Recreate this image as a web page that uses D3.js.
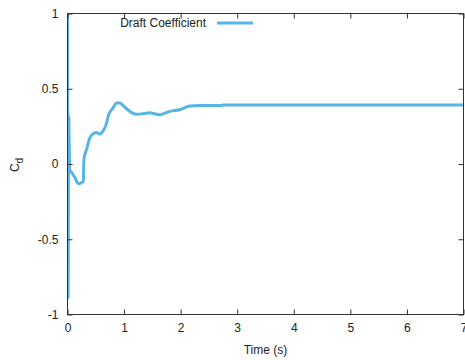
<!DOCTYPE html>
<html>
<head>
<meta charset="utf-8">
<script src="https://cdn.jsdelivr.net/npm/d3@7"></script>
<style>
  body { margin: 0; background: #fff; }
  svg text { font-family: "Liberation Sans", Arial, sans-serif; font-size: 12px; fill: #222; }
</style>
</head>
<body>
<script>
// drag coefficient time history
var time = [0, 0.01, 0.02, 0.04, 0.08, 0.13, 0.19, 0.24, 0.28, 0.29, 0.34, 0.39, 0.45, 0.51, 0.57,
            0.63, 0.68, 0.73, 0.80, 0.87, 0.93, 0.98, 1.05, 1.14, 1.23, 1.35, 1.46, 1.55, 1.63,
            1.72, 1.81, 1.98, 2.16, 2.34, 2.6, 2.73, 2.74, 3.5, 4.5, 5.5, 6.5, 7.0];
var cd = [1.0, -0.89, 0.32, -0.04, -0.06, -0.09, -0.13, -0.125, -0.115, 0.03, 0.1, 0.17, 0.2, 0.21, 0.2,
          0.22, 0.26, 0.33, 0.37, 0.405, 0.405, 0.39, 0.365, 0.34, 0.33, 0.335, 0.34, 0.333, 0.327,
          0.338, 0.35, 0.36, 0.385, 0.388, 0.388, 0.388, 0.392, 0.392, 0.392, 0.392, 0.392, 0.392];

var xTicks = [0, 1, 2, 3, 4, 5, 6, 7];
var yTicks = [-1, -0.5, 0, 0.5, 1];
var seriesName = "Draft Coefficient";

function drawChart(width, height) {
    var left = 67.5, right = 463.5, top = 13.5, bottom = 314.5;

    var svg = d3.select("body").append("svg")
        .attr("width", width)
        .attr("height", height);

    var x = d3.scaleLinear().domain([0, 7]).range([left, right]);
    var y = d3.scaleLinear().domain([-1, 1]).range([bottom, top]);

    svg.append("clipPath").attr("id", "plotclip")
        .append("rect")
        .attr("x", left).attr("y", top)
        .attr("width", right - left).attr("height", bottom - top);

    // data line
    var line = d3.line()
        .x(function(d, i) { return x(time[i]); })
        .y(function(d) { return y(d); })
        .curve(d3.curveMonotoneX);

    svg.append("path")
        .datum(cd)
        .attr("clip-path", "url(#plotclip)")
        .attr("d", line)
        .attr("fill", "none")
        .attr("stroke", "#56b4e9")
        .attr("stroke-width", 3)
        .attr("stroke-linejoin", "round");

    // axes with inward ticks, mirrored on top/right
    var fmt = function(d) { return d; };
    var bottomAxis = d3.axisBottom(x).tickValues(xTicks).tickSizeInner(-5).tickSizeOuter(0).tickPadding(9).tickFormat(fmt);
    var leftAxis = d3.axisLeft(y).tickValues(yTicks).tickSizeInner(-5).tickSizeOuter(0).tickPadding(9).tickFormat(fmt);
    var topAxis = d3.axisTop(x).tickValues(xTicks).tickSizeInner(-5).tickSizeOuter(0).tickFormat("");
    var rightAxis = d3.axisRight(y).tickValues(yTicks).tickSizeInner(-5).tickSizeOuter(0).tickFormat("");

    var gB = svg.append("g").attr("transform", "translate(0," + bottom + ")").call(bottomAxis);
    var gL = svg.append("g").attr("transform", "translate(" + left + ",0)").call(leftAxis);
    var gT = svg.append("g").attr("transform", "translate(0," + top + ")").call(topAxis);
    var gR = svg.append("g").attr("transform", "translate(" + right + ",0)").call(rightAxis);

    [gB, gL, gT, gR].forEach(function(g) {
        g.select(".domain").remove();
        g.selectAll("line").attr("stroke", "#333");
        g.selectAll("text").attr("font-family", null).attr("font-size", null).attr("fill", "#222");
    });

    // frame
    svg.append("rect")
        .attr("x", left).attr("y", top)
        .attr("width", right - left).attr("height", bottom - top)
        .attr("fill", "none")
        .attr("stroke", "#333")
        .attr("stroke-width", 1);

    // axis titles
    svg.append("text")
        .attr("x", (left + right) / 2)
        .attr("y", 354)
        .attr("text-anchor", "middle")
        .text("Time (s)");

    var yt = svg.append("text")
        .attr("transform", "translate(19,165) rotate(-90)")
        .attr("text-anchor", "middle");
    yt.append("tspan").text("C");
    yt.append("tspan").attr("dy", 4).attr("font-size", "10px").text("d");

    // legend
    svg.append("text")
        .attr("x", 206)
        .attr("y", 27)
        .attr("text-anchor", "end")
        .text(seriesName);
    svg.append("line")
        .attr("x1", 217).attr("x2", 253)
        .attr("y1", 23).attr("y2", 23)
        .attr("stroke", "#56b4e9")
        .attr("stroke-width", 3);
}

drawChart(465, 360);
</script>
</body>
</html>
